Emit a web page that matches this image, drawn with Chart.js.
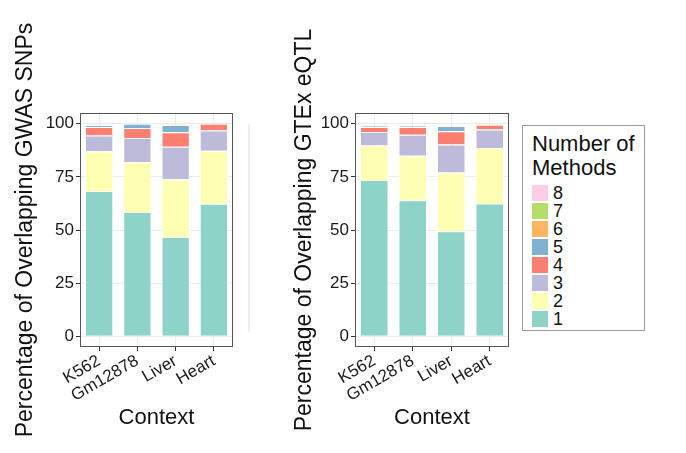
<!DOCTYPE html>
<html>
<head>
<meta charset="utf-8">
<script src="https://cdn.jsdelivr.net/npm/chart.js@4.4.1/dist/chart.umd.min.js"></script>
<style>
  body { margin: 0; background: #fff; width: 686px; height: 453px; overflow: hidden; position: relative;
         font-family: "Liberation Sans", Arial, Helvetica, sans-serif; color: #111; }
  .plot { position: absolute; top: 0; }
  #gwasChart { left: 0; }
  #eqtlChart { left: 270px; }
  .ghost { position: absolute; left: 248px; top: 124px; width: 2px; height: 208px; background: #efefef; }
  #legend { position: absolute; left: 522px; top: 125px; width: 123px; height: 206px;
            border: 1px solid #9a9a9a; box-sizing: border-box; padding: 6px 0 0 9px; }
  #legend .title { font-size: 22px; line-height: 24px; margin-bottom: 4px; }
  #legend .item { height: 18px; display: flex; align-items: center; font-size: 18px; }
  #legend .sw { width: 16px; height: 16px; margin-right: 5px; }
</style>
</head>
<body>
<canvas id="gwasChart" class="plot" width="270" height="453"></canvas>
<div class="ghost"></div>
<canvas id="eqtlChart" class="plot" width="250" height="453"></canvas>
<div id="legend"></div>

<script>
// categories and ticks
const contexts = ['K562', 'Gm12878', 'Liver', 'Heart'];
const yTicks = [0, 25, 50, 75, 100];
const methodLabels = ['1', '2', '3', '4', '5', '6', '7', '8'];
const methodColors = ['#8DD3C7', '#FFFFB3', '#BEBADA', '#FB8072', '#80B1D3', '#FDB462', '#B3DE69', '#FCCDE5'];

// GWAS SNPs: percentage per number of methods (1..8)
const gwas1 = [68.3, 58.5, 46.7, 62.3];
const gwas2 = [18.7, 23.3, 27.2, 25.0];
const gwas3 = [7.4, 11.5, 15.2, 9.5];
const gwas4 = [4.0, 4.6, 6.9, 3.2];
const gwas5 = [1.0, 2.0, 3.4, 0.2];
const gwas6 = [0.2, 0.1, 0.2, 0.1];
const gwas7 = [0.1, 0.0, 0.1, 0.0];
const gwas8 = [0.1, 0.0, 0.0, 0.0];

// GTEx eQTL
const eqtl1 = [73.5, 64.0, 49.4, 62.5];
const eqtl2 = [16.2, 20.9, 27.6, 26.0];
const eqtl3 = [6.4, 9.9, 13.2, 8.7];
const eqtl4 = [2.3, 3.6, 6.2, 2.3];
const eqtl5 = [0.6, 0.6, 2.5, 0.2];
const eqtl6 = [0.2, 0.2, 0.2, 0.1];
const eqtl7 = [0.1, 0.1, 0.1, 0.0];
const eqtl8 = [0.1, 0.0, 0.0, 0.0];

const panelBorder = {
  id: 'panelBorder',
  afterDraw(chart) {
    const { ctx, chartArea: a } = chart;
    ctx.save();
    ctx.strokeStyle = '#555';
    ctx.lineWidth = 1;
    ctx.strokeRect(a.left + 0.5, a.top + 0.5, a.right - a.left - 1, a.bottom - a.top - 1);
    ctx.restore();
  }
};

function makePanel(id, yTitle, series, yAxisWidth, titlePad, padRight) {
  const ctx = document.getElementById(id).getContext('2d');
  new Chart(ctx, {
    type: 'bar',
    data: {
      labels: contexts,
      datasets: series.map((vals, i) => ({
        label: methodLabels[i],
        data: vals,
        backgroundColor: methodColors[i],
        borderColor: '#fff',
        borderWidth: 1,
        categoryPercentage: 1,
        barPercentage: 0.74
      }))
    },
    options: {
      responsive: false,
      animation: false,
      layout: { padding: { left: 0, right: padRight, top: 113, bottom: 0 } },
      plugins: { legend: { display: false }, tooltip: { enabled: false } },
      scales: {
        x: {
          stacked: true,
          grid: { offset: false, color: '#ebebeb', tickColor: '#333', tickLength: 4 },
          border: { display: false },
          ticks: { color: '#1a1a1a', font: { size: 17 }, autoSkip: false, minRotation: 30, maxRotation: 30, padding: 0 },
          title: { display: true, text: 'Context', color: '#111', font: { size: 22 }, padding: { top: 0, bottom: 22 } },
          afterFit: s => { s.height = 106; }
        },
        y: {
          stacked: true,
          min: -5, max: 105,
          afterBuildTicks: s => { s.ticks = yTicks.map(v => ({ value: v })); },
          grid: { color: '#ebebeb', tickColor: '#333', tickLength: 4 },
          border: { display: false },
          ticks: { color: '#1a1a1a', font: { size: 17 }, padding: 2 },
          title: { display: true, text: yTitle, color: '#111', font: { size: 23 }, padding: { top: titlePad, bottom: 0 } },
          afterFit: s => { s.width = yAxisWidth; }
        }
      }
    },
    plugins: [panelBorder]
  });
}

Chart.defaults.font.family = '"Liberation Sans", Arial, Helvetica, sans-serif';

makePanel('gwasChart', 'Percentage of Overlapping GWAS SNPs',
  [gwas1, gwas2, gwas3, gwas4, gwas5, gwas6, gwas7, gwas8], 80, 12, 37);
makePanel('eqtlChart', 'Percentage of Overlapping GTEx eQTL',
  [eqtl1, eqtl2, eqtl3, eqtl4, eqtl5, eqtl6, eqtl7, eqtl8], 85, 21, 11);

// legend, top entry is the highest method count
const legend = document.getElementById('legend');
let html = '<div class="title">Number of<br>Methods</div>';
for (let i = methodLabels.length - 1; i >= 0; i--) {
  html += '<div class="item"><span class="sw" style="background:' + methodColors[i] + '"></span>' + methodLabels[i] + '</div>';
}
legend.innerHTML = html;
</script>
</body>
</html>
